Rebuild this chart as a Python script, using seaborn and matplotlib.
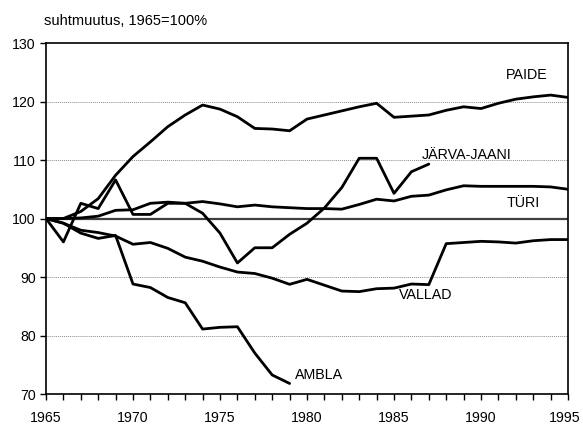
import pandas as pd
import matplotlib.pyplot as plt
import matplotlib.transforms as mtransforms
import seaborn as sns

# Relative change of population, 1965 = 100%
years = list(range(1965, 1996))

paide = [100, 100, 101.2, 103.4, 107.4, 110.6, 113.1, 115.7, 117.7, 119.4,
         118.7, 117.4, 115.4, 115.3, 115.0, 117.0, 117.7, 118.4, 119.1, 119.7,
         117.3, 117.5, 117.7, 118.5, 119.1, 118.8, 119.7, 120.4, 120.8, 121.1, 120.7]
jarva_jaani = [100, 96.0, 102.6, 101.7, 106.6, 100.7, 100.7, 102.6, 102.6, 100.9,
               97.5, 92.4, 95.0, 95.0, 97.3, 99.2, 101.8, 105.3, 110.3, 110.3,
               104.3, 108.0, 109.3]
turi = [100, 100, 100.1, 100.4, 101.4, 101.5, 102.6, 102.8, 102.6, 102.9,
        102.5, 102.0, 102.3, 102.0, 101.85, 101.7, 101.7, 101.6, 102.4, 103.3,
        103.0, 103.8, 104.0, 104.9, 105.6, 105.5, 105.5, 105.5, 105.5, 105.4, 105.0]
vallad = [100, 99.2, 98.0, 97.6, 97.0, 95.6, 95.9, 94.9, 93.4, 92.7,
          91.7, 90.85, 90.6, 89.8, 88.75, 89.6, 88.6, 87.6, 87.5, 88.0,
          88.1, 88.8, 88.7, 95.7, 95.9, 96.1, 96.0, 95.8, 96.2, 96.4, 96.4]
ambla = [100, 99.2, 97.5, 96.6, 97.1, 88.8, 88.2, 86.5, 85.6, 81.1,
         81.4, 81.5, 77.0, 73.25, 71.8]

series = {
    "PAIDE": paide,
    "JÄRVA-JAANI": jarva_jaani,
    "TÜRI": turi,
    "VALLAD": vallad,
    "AMBLA": ambla,
}

# Labels placed next to the lines
labels = ["PAIDE", "JÄRVA-JAANI", "TÜRI", "VALLAD", "AMBLA"]
label_x = [1992.6, 1986.6, 1992.4, 1986.8, 1979.3]
label_y = [124.5, 110.9, 102.6, 86.9, 73.3]
label_ha = ["center", "left", "center", "center", "left"]

rows = []
for name, values in series.items():
    for yr, v in zip(years, values):
        rows.append({"year": yr, "value": v, "place": name})
df = pd.DataFrame(rows)

sns.set_style("white")
plt.rcParams["font.family"] = ["Liberation Sans", "DejaVu Sans"]
plt.rcParams["text.color"] = "black"

fig = plt.figure(figsize=(5.83, 4.26), dpi=100)
ax = fig.add_axes([0.0789, 0.0751, 0.8954, 0.8239])

# Grid lines
for g in [80, 90, 110, 120]:
    ax.axhline(g, color="#8c8c8c", lw=0.7, ls=(0, (1, 1)), zorder=1)
ax.axhline(100, color="#404040", lw=1.6, zorder=1)

sns.lineplot(data=df, x="year", y="value", hue="place", units="place",
             estimator=None, palette=["black"] * len(series), lw=2,
             legend=False, ax=ax, zorder=3)

for txt, x, y, ha in zip(labels, label_x, label_y, label_ha):
    ax.text(x, y, txt, ha=ha, va="center", fontsize=10.3, color="black")

ax.set_xlim(1965, 1995)
ax.set_ylim(70, 130)
ax.set_xticks(range(1965, 1996, 5))
ax.set_xticks(range(1965, 1996), minor=True)
ax.set_yticks(range(70, 131, 10))
ax.tick_params(axis="both", which="both", direction="out", length=4.5,
               width=1, color="black", labelcolor="black", labelsize=10.2,
               bottom=True, left=True)
ax.tick_params(axis="x", pad=8)
ax.tick_params(axis="y", pad=3)
ax.set_xlabel("")
ax.set_ylabel("")

# keep the last year label inside the figure
last = ax.get_xticklabels()[-1]
last.set_transform(last.get_transform() +
                   mtransforms.ScaledTranslation(-3 / 100, 0, fig.dpi_scale_trans))

for s in ax.spines.values():
    s.set_color("black")
    s.set_linewidth(1.2)
    s.set_visible(True)

fig.text(44 / 583, 1 - 21 / 426, "suhtmuutus, 1965=100%", ha="left",
         va="center", fontsize=10.5, color="black")

fig.savefig("out.png", dpi=100)
